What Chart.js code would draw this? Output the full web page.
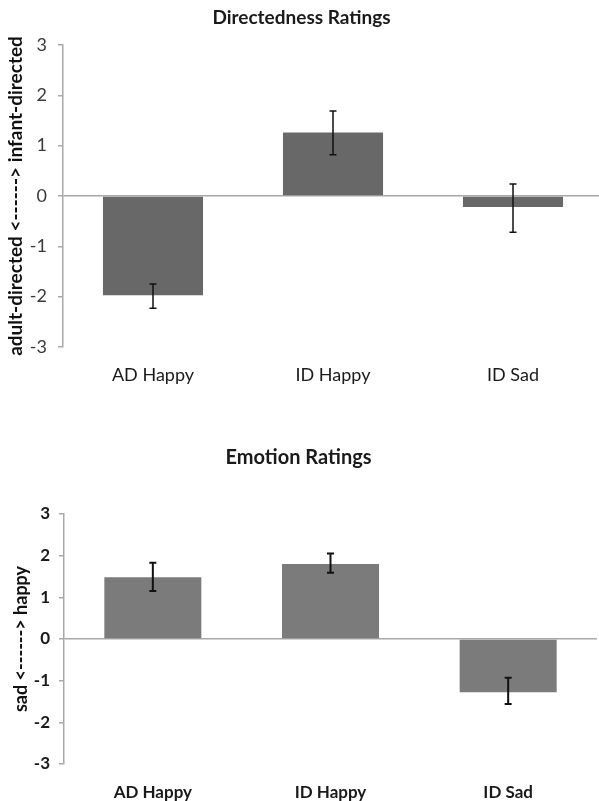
<!DOCTYPE html>
<html><head><meta charset="utf-8">
<script src="https://cdn.jsdelivr.net/npm/chart.js@4.4.0/dist/chart.umd.min.js"></script>
<style>
html,body{margin:0;padding:0;background:#fff;overflow:hidden;width:599px;height:801px;}
canvas{position:absolute;left:0;}
#c1{top:0;}
#c2{top:400px;}
</style></head><body>
<canvas id="c1" width="603" height="400"></canvas>
<canvas id="c2" width="597" height="401"></canvas>
<script>
const categories = ['AD Happy', 'ID Happy', 'ID Sad'];
const dirValues = [-1.97, 1.26, -0.22];
const dirErrLow = [-2.23, 0.82, -0.72];
const dirErrHigh = [-1.75, 1.69, 0.24];
const emoValues = [1.48, 1.80, -1.28];
const emoErrLow = [1.15, 1.59, -1.56];
const emoErrHigh = [1.83, 2.05, -0.93];
const yTicks = [-3, -2, -1, 0, 1, 2, 3];

const FONT = 'Lato, "Open Sans", sans-serif';

function errorPlugin(low, high, width, capHalf) {
  return {
    id: 'errbars',
    afterDatasetsDraw(chart) {
      const ctx = chart.ctx;
      const meta = chart.getDatasetMeta(0);
      const ys = chart.scales.y;
      ctx.save();
      ctx.strokeStyle = '#111';
      ctx.lineWidth = width;
      meta.data.forEach((bar, i) => {
        const x = bar.x;
        const y1 = ys.getPixelForValue(low[i]);
        const y2 = ys.getPixelForValue(high[i]);
        ctx.beginPath();
        ctx.moveTo(x, y1); ctx.lineTo(x, y2);
        ctx.moveTo(x - capHalf, y1); ctx.lineTo(x + capHalf, y1);
        ctx.moveTo(x - capHalf, y2); ctx.lineTo(x + capHalf, y2);
        ctx.stroke();
      });
      ctx.restore();
    }
  };
}

function makeChart(id, opts) {
  return new Chart(document.getElementById(id), {
    type: 'bar',
    data: {
      labels: categories,
      datasets: [{
        data: opts.values,
        backgroundColor: opts.barColor,
        borderWidth: 0,
        barPercentage: opts.barPct,
        categoryPercentage: 1.0
      }]
    },
    options: {
      responsive: false,
      animation: false,
      layout: { padding: 0 },
      plugins: {
        legend: { display: false },
        tooltip: { enabled: false },
        title: {
          display: true,
          text: opts.title,
          color: '#1a1a1a',
          font: { family: FONT, size: opts.titleSize, weight: 'bold', lineHeight: 1.2 },
          padding: opts.titlePad
        }
      },
      scales: {
        x: {
          grid: { display: false, drawTicks: false },
          border: { display: false },
          ticks: {
            color: '#1a1a1a',
            padding: opts.catPad,
            font: { family: FONT, size: opts.catSize, weight: opts.catWeight, lineHeight: 1.2 }
          },
          afterFit(s) { s.height = opts.xHeight; }
        },
        y: {
          min: -3, max: 3,
          afterBuildTicks(s) { s.ticks = yTicks.map(v => ({ value: v })); },
          grid: {
            drawTicks: true,
            tickLength: 5,
            color: c => (c.tick && c.tick.value === 0) ? '#a8a8a8' : 'rgba(0,0,0,0)',
            tickColor: '#a8a8a8',
            lineWidth: 1.5
          },
          border: { display: true, color: '#a8a8a8', width: 1.5 },
          ticks: {
            color: opts.tickColor,
            padding: opts.tickPad,
            font: { family: FONT, size: opts.tickSize, weight: opts.tickWeight }
          },
          title: {
            display: true,
            text: opts.yTitle,
            color: '#111',
            font: { family: FONT, size: opts.yTitleSize, weight: 'bold', lineHeight: 1.2 },
            padding: { top: opts.yTitleTop, bottom: 0 }
          },
          afterFit(s) { s.width = opts.yWidth; }
        }
      }
    },
    plugins: [errorPlugin(opts.low, opts.high, opts.errWidth, 3.5)]
  });
}

makeChart('c1', {
  values: dirValues, low: dirErrLow, high: dirErrHigh,
  barColor: '#686868', barPct: 0.556,
  title: 'Directedness Ratings', titleSize: 19,
  titlePad: { top: 6.6, bottom: 15.6 },
  catWeight: 'normal', catSize: 18, catPad: 17,
  tickWeight: 'normal', tickColor: '#3a3a3a', tickPad: 11, tickSize: 18,
  yTitle: 'adult-directed <------> infant-directed', yTitleTop: 4, yTitleSize: 19,
  xHeight: 53, yWidth: 63, errWidth: 1.5
});

makeChart('c2', {
  values: emoValues, low: emoErrLow, high: emoErrHigh,
  barColor: '#7b7b7b', barPct: 0.546,
  title: 'Emotion Ratings', titleSize: 20,
  titlePad: { top: 46, bottom: 44 },
  catWeight: 'bold', catSize: 17, catPad: 18,
  tickWeight: 'bold', tickColor: '#1a1a1a', tickPad: 9, tickSize: 17,
  yTitle: 'sad <------> happy', yTitleTop: 10, yTitleSize: 18,
  xHeight: 37, yWidth: 64, errWidth: 2
});
</script>
</body></html>
